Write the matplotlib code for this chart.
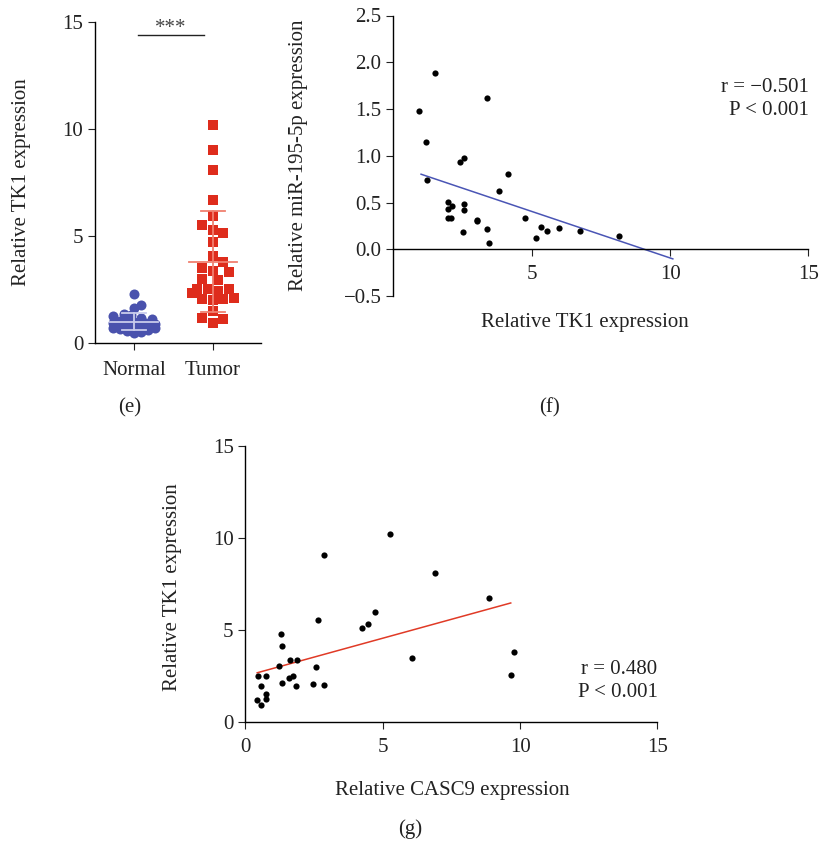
import numpy as np
import matplotlib
matplotlib.use('Agg')
import matplotlib.pyplot as plt
from matplotlib.ticker import FuncFormatter

plt.rcParams['font.family'] = ['Liberation Serif', 'DejaVu Serif']
plt.rcParams['font.size'] = 15
plt.rcParams['axes.linewidth'] = 1.0
plt.rcParams['xtick.major.size'] = 5
plt.rcParams['ytick.major.size'] = 5
plt.rcParams['xtick.color'] = '#222222'
plt.rcParams['ytick.color'] = '#222222'
plt.rcParams['text.color'] = '#222222'

# panel (e): TK1 in normal vs tumour tissue
groups = ['Normal', 'Tumor']
normal_tk1 = [2.30, 1.76, 1.64, 1.35, 1.30, 1.25, 1.15, 1.10, 1.05, 1.00, 1.00,
              0.95, 0.95, 0.90, 0.90, 0.90, 0.85, 0.85, 0.85, 0.80, 0.80, 0.75,
              0.70, 0.70, 0.65, 0.60, 0.55, 0.50, 0.45]
tumor_tk1 = [10.20, 9.03, 8.10, 6.70, 5.95, 5.30, 5.53, 5.15, 4.73, 4.08, 3.80,
             3.52, 3.33, 3.38, 2.94, 3.00, 2.54, 2.54, 2.54, 2.44, 2.32, 2.07,
             2.02, 2.07, 2.12, 1.51, 1.18, 1.14, 0.95]

# panel (f): TK1 vs miR-195-5p
f_tk1 = [1.52, 0.94, 1.17, 1.20, 3.40, 2.40, 2.56, 4.13, 3.80, 1.99, 2.13, 1.96,
         2.54, 2.54, 1.96, 2.07, 3.01, 3.03, 2.52, 3.37, 3.46, 4.76, 5.17, 5.32,
         5.55, 6.00, 6.73, 8.17]
f_mir = [1.88, 1.48, 1.15, 0.74, 1.62, 0.93, 0.98, 0.80, 0.62, 0.51, 0.46, 0.43,
         0.48, 0.42, 0.33, 0.33, 0.31, 0.30, 0.18, 0.22, 0.07, 0.33, 0.12, 0.24,
         0.19, 0.23, 0.19, 0.14]
f_fit = (-0.0995, 0.902)   # slope, intercept as drawn
f_line_x = [1.0, 10.1]
f_stats = ['r = \u22120.501', 'P < 0.001']

# panel (g): CASC9 vs TK1
g_casc9 = [5.25, 2.86, 6.90, 8.88, 4.73, 4.47, 4.26, 2.65, 1.28, 1.33, 6.06, 9.79,
           9.66, 1.22, 1.61, 1.88, 2.56, 1.59, 1.74, 1.33, 1.83, 2.45, 2.87, 0.45,
           0.76, 0.58, 0.74, 0.76, 0.41, 0.58]
g_tk1 = [10.23, 9.06, 8.11, 6.74, 6.00, 5.33, 5.13, 5.55, 4.79, 4.16, 3.51, 3.83,
         2.55, 3.07, 3.38, 3.38, 3.02, 2.42, 2.53, 2.13, 1.99, 2.06, 2.04, 2.53,
         2.53, 1.99, 1.55, 1.25, 1.19, 0.95]
g_fit = (0.41, 2.51)
g_line_x = [0.43, 9.66]
g_stats = ['r = 0.480', 'P < 0.001']

W, H = 819, 841
fig = plt.figure(figsize=(W / 100, H / 100), dpi=100)


def box(x0, x1, y0, y1):
    # pixel box -> figure fraction rect
    return [x0 / W, 1 - y1 / H, (x1 - x0) / W, (y1 - y0) / H]


def ftext(x, y, s, **kw):
    fig.text(x / W, 1 - y / H, s, **kw)


def swarm(vals, d, maxw, xpx, ypx):
    # beeswarm limited to +-maxw px; falls back to least-overlapping slot
    vals = np.asarray(vals)
    offs = np.zeros(len(vals))
    placed = []
    cand = [0.0]
    k = 1
    while k * d * 0.5 <= maxw:
        cand += [k * d * 0.5, -k * d * 0.5]
        k += 1
    for i in np.argsort(vals):
        y = vals[i] * ypx
        best, best_d = 0.0, -1
        for c in cand:
            md = min([np.hypot(c - px, y - py) for px, py in placed] or [1e9])
            if md >= d:
                best = c
                break
            if md > best_d:
                best, best_d = c, md
        placed.append((best, y))
        offs[i] = best / xpx
    return offs


# ---- (e) ----
ax_e = fig.add_axes(box(95, 261, 22, 343))
ax_e.set_xlim(-0.494, 1.608)
ax_e.set_ylim(0, 15)
xpx = 79.0
ypx = 21.4
cols = ['#4a52ad', '#de2c1c']
bar_cols = ['#c9cbec', '#f08070']
spacing = [7.0, 10.5]
widths = [21, 21]
for i, (vals, mk) in enumerate([(normal_tk1, 'o'), (tumor_tk1, 's')]):
    offs = swarm(vals, spacing[i], widths[i], xpx, ypx)
    ax_e.scatter(i + offs, vals, marker=mk, s=52, color=cols[i], linewidths=0, zorder=2)
    m, sd = np.mean(vals), np.std(vals, ddof=1)
    ax_e.plot([i - 0.31, i + 0.31], [m, m], color=bar_cols[i], lw=1.3, zorder=3)
    ax_e.plot([i, i], [m - sd, m + sd], color=bar_cols[i], lw=1.3, zorder=3)
    for yy in (m - sd, m + sd):
        ax_e.plot([i - 0.15, i + 0.15], [yy, yy], color=bar_cols[i], lw=1.3, zorder=3)
ax_e.plot([0.05, 0.89], [14.4, 14.4], color='#222222', lw=1.0, clip_on=False)
ax_e.text(0.47, 14.5, '***', ha='center', va='baseline', fontsize=15, color='#444444')
ax_e.set_xticks([0, 1])
ax_e.set_xticklabels(groups)
ax_e.set_yticks([0, 5, 10, 15])
ax_e.spines['top'].set_visible(False)
ax_e.spines['right'].set_visible(False)
ax_e.tick_params(axis='x', pad=8)
ftext(22, 182, 'Relative TK1 expression', rotation=90, ha='center', va='center')
ftext(130, 408, '(e)', ha='center', va='center')

# ---- (f) ----
ax_f = fig.add_axes(box(393.4, 808.4, 15.5, 296))
ax_f.set_xlim(0, 15)
ax_f.set_ylim(-0.5, 2.5)
ax_f.scatter(f_tk1, f_mir, s=20, color='black', linewidths=0, zorder=3)
lx = np.array(f_line_x)
ax_f.plot(lx, f_fit[0] * lx + f_fit[1], color='#4a55b5', lw=1.1, zorder=2)
ax_f.spines['top'].set_visible(False)
ax_f.spines['right'].set_visible(False)
ax_f.spines['bottom'].set_position(('data', 0))
ax_f.spines['bottom'].set_bounds(0, 15)
ax_f.set_xticks([5, 10, 15])
ax_f.set_yticks([-0.5, 0, 0.5, 1.0, 1.5, 2.0, 2.5])
ax_f.yaxis.set_major_formatter(FuncFormatter(lambda v, p: f'{v:.1f}'.replace('-', '\u2212')))
ax_f.tick_params(axis='x', pad=6)
ax_f.text(1.0, 0.703, f_stats[0] + '\n' + f_stats[1], transform=ax_f.transAxes,
          ha='right', va='center', linespacing=1.3)
ftext(298, 155, 'Relative miR-195-5p expression', rotation=90, ha='center', va='center')
ftext(585, 322, 'Relative TK1 expression', ha='center', va='center')
ftext(550, 408, '(f)', ha='center', va='center')

# ---- (g) ----
ax_g = fig.add_axes(box(245.4, 657.4, 445.7, 722.3))
ax_g.set_xlim(0, 15)
ax_g.set_ylim(0, 15)
ax_g.scatter(g_casc9, g_tk1, s=20, color='black', linewidths=0, zorder=3)
lx = np.array(g_line_x)
ax_g.plot(lx, g_fit[0] * lx + g_fit[1], color='#e03a26', lw=1.1, zorder=2)
ax_g.spines['top'].set_visible(False)
ax_g.spines['right'].set_visible(False)
ax_g.set_xticks([0, 5, 10, 15])
ax_g.set_yticks([0, 5, 10, 15])
ax_g.tick_params(axis='x', pad=6)
ax_g.text(1.0, 0.148, g_stats[0] + '\n' + g_stats[1], transform=ax_g.transAxes,
          ha='right', va='center', linespacing=1.3)
ftext(172, 587, 'Relative TK1 expression', rotation=90, ha='center', va='center')
ftext(452, 790, 'Relative CASC9 expression', ha='center', va='center')
ftext(410, 829, '(g)', ha='center', va='center')

fig.savefig('out.png', dpi=100)
